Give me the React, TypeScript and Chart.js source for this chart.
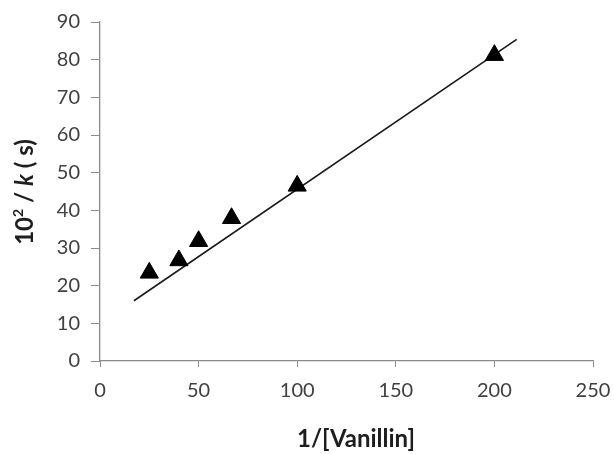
import React, { useEffect, useRef } from "react";
import { Chart, registerables } from "chart.js";

Chart.register(...registerables);

// ---- data ----
const invVanillin = [25, 40, 50, 66.7, 100, 200];
const invK = [23.4, 26.7, 31.8, 37.9, 46.5, 81.2];
const fitX = [17.2, 211.3];
const fitY = [16.0, 85.4];
const xTickMin = 0;
const xTickMax = 250;
const xTickStep = 50;
const yTickMin = 0;
const yTickMax = 90;
const yTickStep = 10;
const xTitle = "1/[Vanillin]";
const yTitleParts = [
  { text: "10", style: "bold", size: 24, dy: 0 },
  { text: "2", style: "bold", size: 14, dy: -7 },
  { text: " / ", style: "bold", size: 24, dy: 0 },
  { text: "k", style: "italic bold", size: 24, dy: 0 },
  { text: " ( s)", style: "bold", size: 24, dy: 0 },
];

const FONT = "Lato, 'Open Sans', sans-serif";
const AXIS_COLOR = "#8a8a8a";
const TICK_COLOR = "#404040";
const TITLE_COLOR = "#1e1e1e";

const titlesPlugin = {
  id: "customTitles",
  afterDraw(chart: any) {
    const ctx = chart.ctx;
    ctx.save();
    ctx.fillStyle = TITLE_COLOR;
    // x title
    ctx.font = `bold 24px ${FONT}`;
    ctx.textAlign = "center";
    ctx.textBaseline = "middle";
    ctx.fillText(xTitle, 356, 439);
    // y title (rotated, mixed styles)
    ctx.translate(25, 192);
    ctx.rotate(-Math.PI / 2);
    let total = 0;
    for (const p of yTitleParts) {
      ctx.font = `${p.style} ${p.size}px ${FONT}`;
      total += ctx.measureText(p.text).width;
    }
    let x = -total / 2;
    ctx.textAlign = "left";
    for (const p of yTitleParts) {
      ctx.font = `${p.style} ${p.size}px ${FONT}`;
      ctx.fillText(p.text, x, p.dy);
      x += ctx.measureText(p.text).width;
    }
    ctx.restore();
  },
};

export default function App() {
  const ref = useRef<HTMLCanvasElement | null>(null);

  useEffect(() => {
    document.body.style.margin = "0";
    const canvas = ref.current;
    if (!canvas) return;
    const chart = new Chart(canvas, {
      type: "scatter",
      data: {
        datasets: [
          {
            label: "fit",
            type: "line",
            data: fitX.map((x, i) => ({ x, y: fitY[i] })),
            borderColor: "#1a1a1a",
            borderWidth: 1.6,
            pointRadius: 0,
            fill: false,
            order: 2,
          },
          {
            label: "data",
            data: invVanillin.map((x, i) => ({ x, y: invK[i] })),
            pointStyle: "triangle",
            pointRadius: 10.5,
            backgroundColor: "#000",
            borderColor: "#000",
            borderWidth: 1,
            order: 1,
          },
        ],
      },
      options: {
        animation: false,
        responsive: true,
        maintainAspectRatio: false,
        layout: { padding: { top: 22, right: 21, left: 0, bottom: 0 } },
        plugins: {
          legend: { display: false },
          tooltip: { enabled: false },
        },
        scales: {
          x: {
            type: "linear",
            min: xTickMin,
            max: xTickMax,
            ticks: {
              stepSize: xTickStep,
              color: TICK_COLOR,
              font: { family: FONT, size: 20 },
              padding: 12,
            },
            grid: {
              drawOnChartArea: false,
              drawTicks: true,
              tickLength: 6,
              color: AXIS_COLOR,
            },
            border: { display: true, color: AXIS_COLOR, width: 1.3 },
            afterFit(scale: any) {
              scale.height = 93;
              scale.paddingLeft = 0;
              scale.paddingRight = 0;
            },
          },
          y: {
            type: "linear",
            min: yTickMin,
            max: yTickMax,
            ticks: {
              stepSize: yTickStep,
              color: TICK_COLOR,
              font: { family: FONT, size: 20 },
              padding: 11,
            },
            grid: {
              drawOnChartArea: false,
              drawTicks: true,
              tickLength: 9,
              color: AXIS_COLOR,
            },
            border: { display: true, color: AXIS_COLOR, width: 1.3 },
            afterFit(scale: any) {
              scale.width = 100;
              scale.paddingTop = 0;
              scale.paddingBottom = 0;
            },
          },
        },
      },
      plugins: [titlesPlugin],
    });
    return () => chart.destroy();
  }, []);

  return (
    <div style={{ position: "absolute", left: 0, top: 0, width: 614, height: 454, background: "#fff" }}>
      <canvas ref={ref} />
    </div>
  );
}
